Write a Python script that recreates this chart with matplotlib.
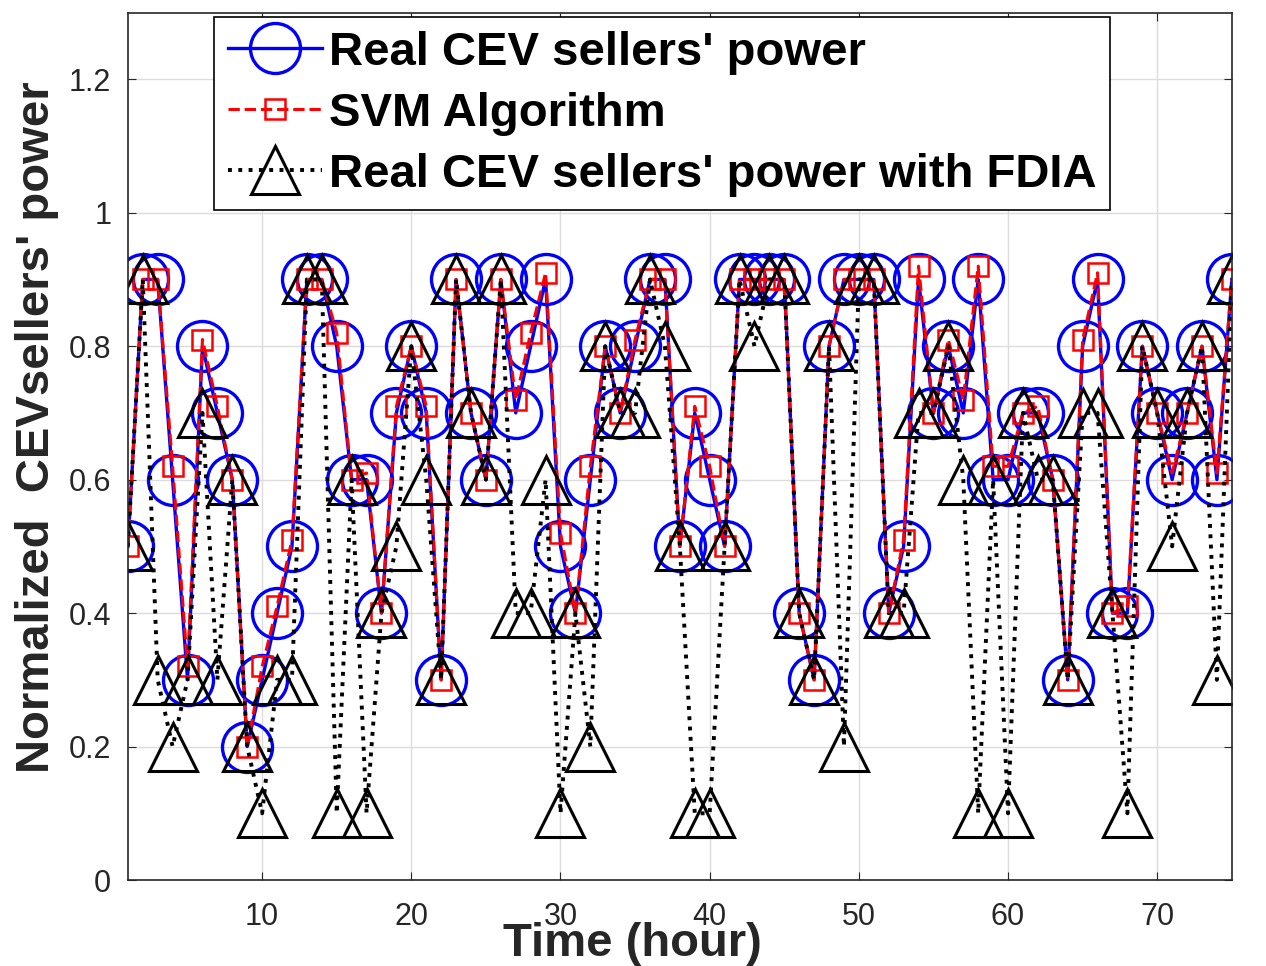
import numpy as np
import matplotlib.pyplot as plt

plt.rcParams['font.family'] = ['Liberation Sans', 'DejaVu Sans']

hours = np.arange(1, 76)

real_power = [0.5, 0.9, 0.9, 0.6, 0.3, 0.8, 0.7, 0.6, 0.2, 0.3,
              0.4, 0.5, 0.9, 0.9, 0.8, 0.6, 0.6, 0.4, 0.7, 0.8,
              0.7, 0.3, 0.9, 0.7, 0.6, 0.9, 0.7, 0.8, 0.9, 0.5,
              0.4, 0.6, 0.8, 0.7, 0.8, 0.9, 0.9, 0.5, 0.7, 0.6,
              0.5, 0.9, 0.9, 0.9, 0.9, 0.4, 0.3, 0.8, 0.9, 0.9,
              0.9, 0.4, 0.5, 0.9, 0.7, 0.8, 0.7, 0.9, 0.6, 0.6,
              0.7, 0.7, 0.6, 0.3, 0.8, 0.9, 0.4, 0.4, 0.8, 0.7,
              0.6, 0.7, 0.8, 0.6, 0.9]

svm_power = [0.5, 0.9, 0.9, 0.62, 0.32, 0.81, 0.71, 0.6, 0.2, 0.32,
             0.41, 0.51, 0.9, 0.9, 0.82, 0.6, 0.61, 0.4, 0.71, 0.8,
             0.71, 0.3, 0.9, 0.7, 0.6, 0.9, 0.72, 0.82, 0.91, 0.52,
             0.4, 0.62, 0.8, 0.7, 0.81, 0.9, 0.9, 0.5, 0.71, 0.62,
             0.5, 0.9, 0.9, 0.9, 0.9, 0.4, 0.3, 0.8, 0.9, 0.9,
             0.9, 0.4, 0.51, 0.92, 0.7, 0.81, 0.72, 0.92, 0.62, 0.62,
             0.7, 0.71, 0.6, 0.3, 0.81, 0.91, 0.4, 0.41, 0.8, 0.7,
             0.61, 0.7, 0.8, 0.61, 0.9]

fdia_power = [0.5, 0.9, 0.3, 0.2, 0.3, 0.7, 0.3, 0.6, 0.2, 0.1,
              0.3, 0.3, 0.9, 0.9, 0.1, 0.6, 0.1, 0.4, 0.5, 0.8,
              0.6, 0.3, 0.9, 0.7, 0.6, 0.9, 0.4, 0.4, 0.6, 0.1,
              0.4, 0.2, 0.8, 0.7, 0.7, 0.9, 0.8, 0.5, 0.1, 0.1,
              0.5, 0.9, 0.8, 0.9, 0.9, 0.4, 0.3, 0.8, 0.2, 0.9,
              0.9, 0.4, 0.4, 0.7, 0.7, 0.8, 0.6, 0.1, 0.6, 0.1,
              0.7, 0.6, 0.6, 0.3, 0.7, 0.7, 0.4, 0.1, 0.8, 0.7,
              0.5, 0.7, 0.8, 0.3, 0.9]

fig = plt.figure(figsize=(12.66, 9.66), dpi=100)
ax = fig.add_axes([0.101, 0.089, 0.872, 0.898])

ax.plot(hours, real_power, '-o', color='blue', lw=2.4, ms=36, mew=2.4,
        mfc='none', label="Real CEV sellers' power")
ax.plot(hours, svm_power, '--s', color='red', lw=2.2, ms=15, mew=1.8,
        mfc='none', label='SVM Algorithm')
ax.plot(hours, fdia_power, ':^', color='black', lw=2.8, ms=34, mew=2.2,
        mfc='none', label="Real CEV sellers' power with FDIA")

ax.set_xlim(1, 75)
ax.set_ylim(0, 1.3)
ax.set_xticks(np.arange(10, 71, 10))
ax.set_yticks([0, 0.2, 0.4, 0.6, 0.8, 1, 1.2])
ax.set_yticklabels(['0', '0.2', '0.4', '0.6', '0.8', '1', '1.2'])
ax.grid(True, color='#dcdcdc', lw=1)
ax.set_axisbelow(True)
ax.tick_params(direction='in', top=True, right=True, labelsize=22,
               colors='#262626', length=6)
ax.tick_params(axis='x', pad=16)
ax.tick_params(axis='y', pad=12)
for s in ax.spines.values():
    s.set_color('#262626')
    s.set_linewidth(1.2)

# MATLAB-style: the x label sits over the 30/40 tick labels, as in the source figure
ax.set_xlabel('Time (hour)', fontsize=34, fontweight='bold', color='#262626')
ax.xaxis.set_label_coords(0.457, -0.048)
ax.set_ylabel("Normalized  CEVsellers' power", fontsize=34, fontweight='bold',
              color='#262626')
ax.yaxis.set_label_coords(-0.062, 0.522)

leg = ax.legend(loc='upper left', bbox_to_anchor=(0.074, 1.0),
                prop={'weight': 'bold', 'size': 34}, handlelength=2.0,
                fancybox=False, framealpha=1, edgecolor='black',
                borderpad=0.28, labelspacing=0.36, handletextpad=0.15,
                borderaxespad=0.1)
leg.get_frame().set_linewidth(1.2)

fig.savefig('out.png', dpi=100)
